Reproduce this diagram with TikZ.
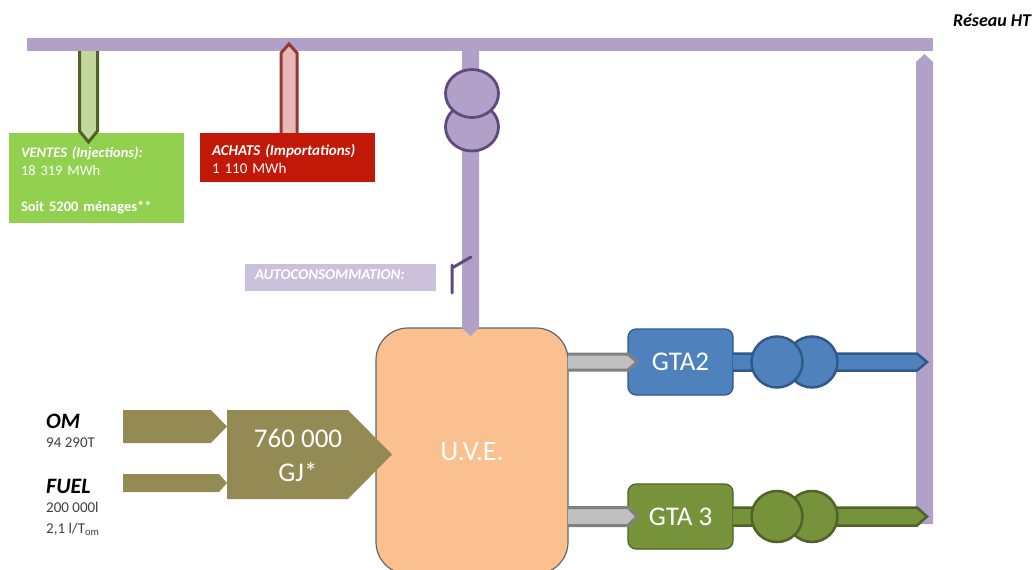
\documentclass[tikz,border=0pt]{standalone}
\usepackage{fontspec}
\setmainfont{Carlito}
\usetikzlibrary{calc,shapes.geometric}
\definecolor{busc}{HTML}{B1A0C7}
\definecolor{busd}{HTML}{604A7B}
\definecolor{fuelc}{HTML}{948A54}
\definecolor{uvec}{HTML}{FAC090}
\definecolor{bluec}{HTML}{4F81BD}
\definecolor{blued}{HTML}{2F5A8A}
\definecolor{greenc}{HTML}{76933C}
\definecolor{greend}{HTML}{4F6228}
\definecolor{ventf}{HTML}{C3D69B}
\definecolor{achf}{HTML}{E6B9B8}
\definecolor{achd}{HTML}{953735}
\definecolor{ventbox}{HTML}{92D050}
\definecolor{achbox}{HTML}{C21807}
\definecolor{autobox}{HTML}{CCC1DA}
\newcommand{\harrow}[5]{\path[#1] let \p1=(#2),\p2=(#3) in (\x1,\y1+#4pt) -- (\x2-#5pt,\y1+#4pt) -- (\x2,\y1) -- (\x2-#5pt,\y1-#4pt) -- (\x1,\y1-#4pt);}
\newcommand{\varrow}[5]{\path[#1] let \p1=(#2),\p2=(#3),\n1={\y2>\y1 ? 1 : -1} in (\x1-#4pt,\y1) -- (\x1-#4pt,\y2-\n1*#5pt) -- (\x1,\y2) -- (\x1+#4pt,\y2-\n1*#5pt) -- (\x1+#4pt,\y1);}
\tikzset{
  x=1pt,y=-1pt,
  box/.style={rectangle,inner sep=0pt,outer sep=0pt,anchor=north west},
  infobox/.style={box,text=white,align=left,inner xsep=12pt,minimum width=175pt,text width=151pt},
  ttext/.style={anchor=west,inner sep=0pt,text=black},
  small/.style={ttext,font=\fontsize{15}{17}\selectfont,text=black!75},
  big/.style={ttext,font=\bfseries\itshape\fontsize{22}{25}\selectfont},
  gta/.style={box,rounded corners=8pt,minimum width=105pt,text=white,font=\fontsize{27}{31}\selectfont,anchor=center,line width=1.2pt},
  bus/.style={fill=busc,draw=none},
  circ/.style={circle,inner sep=0pt,outer sep=0pt,minimum size=51pt,line width=2.5pt},
  gray arrow/.style={fill=black!25,draw=black!50,line width=3pt},
}
\begin{document}
\begin{tikzpicture}
\useasboundingbox (0,0) rectangle (1034,570);
\fill[white] (0,0) rectangle (1034,570);
% named anchors
\coordinate (midTop) at (470.5,51);
\coordinate (midEnd) at (470.5,336);
\coordinate (rightTop) at (924.5,54);
\coordinate (rightEnd) at (924.5,524);
\coordinate (ventStart) at (88.5,51);
\coordinate (ventEnd) at (88.5,142);
\coordinate (achStart) at (289,134);
\coordinate (achEnd) at (289,44);
% bus
\node[box,fill=busc,minimum width=906pt,minimum height=13pt] (bus) at (27,38) {};
% UVE (runs past the page's lower edge)
\begin{scope}
\clip (0,0) rectangle (1034,570);
\node[box,fill=uvec,draw=black!60,line width=1.2pt,rounded corners=32pt,minimum width=192pt,minimum height=246pt] (uve) at (376,328) {};
\end{scope}
\node[text=white,font=\fontsize{28}{32}\selectfont,inner sep=0pt] (uvet) at (472,452) {U.V.E.};
% risers
\varrow{bus}{midTop}{midEnd}{8.5}{8}
\varrow{bus}{rightEnd}{rightTop}{8.5}{8}
% vente / achat
\node[infobox,fill=ventbox,minimum height=90pt,font=\fontsize{14.5}{18}\selectfont] (ventes) at (9,133)
  {\rule{0pt}{15pt}\textit{\textbf{VENTES (Injections):}}\\18 319 MWh\\[18pt]\textbf{Soit 5200 ménages**}};
\varrow{fill=ventf,draw=greend,line width=3pt}{ventStart}{ventEnd}{9}{11}
\varrow{fill=achf,draw=achd,line width=3pt}{achStart}{achEnd}{8}{9}
\node[infobox,fill=achbox,minimum height=49pt,font=\fontsize{15}{18}\selectfont] (achats) at (200,133)
  {\rule{0pt}{15pt}\textit{\textbf{ACHATS (Importations)}}\\1 110 MWh};
% transformer
\node[draw=busd,fill=busc,line width=2.8pt,ellipse,minimum width=53pt,minimum height=48pt,inner sep=0pt] (t2) at (472,127) {};
\node[draw=busd,fill=busc,line width=2.8pt,ellipse,minimum width=53pt,minimum height=48pt,inner sep=0pt] (t1) at (472,93.5) {};
% autoconsommation
\node[box,fill=autobox,minimum width=191pt,minimum height=27pt,inner xsep=10pt,text width=171pt,text=white,align=left,font=\bfseries\itshape\fontsize{15}{15}\selectfont] (auto) at (245,264) {AUTOCONSOMMATION:\rule[-5pt]{0pt}{1pt}};
\coordinate (swA) at (452,293);
\coordinate (swB) at (452,265);
\coordinate (swC) at (471,257);
\coordinate (swD) at (452,268);
\draw[busd,line width=3pt,line cap=round] (swA) -- (swB) (swD) -- (swC);
% GTA
\node[gta,fill=bluec,draw=blued,minimum height=66pt] (gta2) at (680.5,362) {GTA2};
\node[gta,fill=greenc,draw=greend,minimum height=65pt] (gta3) at (680.5,516.5) {GTA 3};
\harrow{gray arrow}{uve.east |- gta2.west}{$(gta2.west)+(9,0)$}{8}{9}
\harrow{gray arrow}{uve.east |- gta3.west}{$(gta3.west)+(9,0)$}{9}{9}
\coordinate (blueEnd) at (927,362);
\coordinate (greenEnd) at (927,516.5);
\harrow{fill=bluec,draw=blued,line width=2.5pt}{gta2.east}{blueEnd}{8.5}{10}
\harrow{fill=greenc,draw=greend,line width=2.5pt}{gta3.east}{greenEnd}{9}{10}
\node[circ,fill=bluec,draw=blued] (b2) at (812,362) {};
\node[circ,fill=bluec,draw=blued] (b1) at (777,362) {};
\node[circ,fill=greenc,draw=greend] (g2) at (812,516.5) {};
\node[circ,fill=greenc,draw=greend] (g1) at (777,516.5) {};
% fuel
\coordinate (omS) at (123,426.5);
\coordinate (fuelS) at (123,483);
\coordinate (bigS) at (227,454.5);
\coordinate (bigE) at (392,454.5);
\harrow{fill=fuelc}{omS}{omS -| bigS}{16.5}{16}
\harrow{fill=fuelc}{fuelS}{fuelS -| bigS}{9}{8}
\harrow{fill=fuelc}{bigS}{bigE}{44.5}{44}
\node[text=white,align=center,inner sep=0pt,font=\fontsize{27}{34}\selectfont] (gj) at (298,455) {760 000\\GJ*};
% labels
\node[big] (om) at (46,421) {OM};
\node[small] (omv) at (46,443) {94 290T};
\node[big] (fuel) at (46,486) {FUEL};
\node[small] (fv1) at (46,507) {200 000l};
\node[small] (fv2) at (46,529) {2,1 l/T\textsubscript{om}};
\node[ttext,font=\bfseries\itshape\fontsize{18}{20}\selectfont] (ht) at (953,20) {Réseau HT};
\end{tikzpicture}
\end{document}
